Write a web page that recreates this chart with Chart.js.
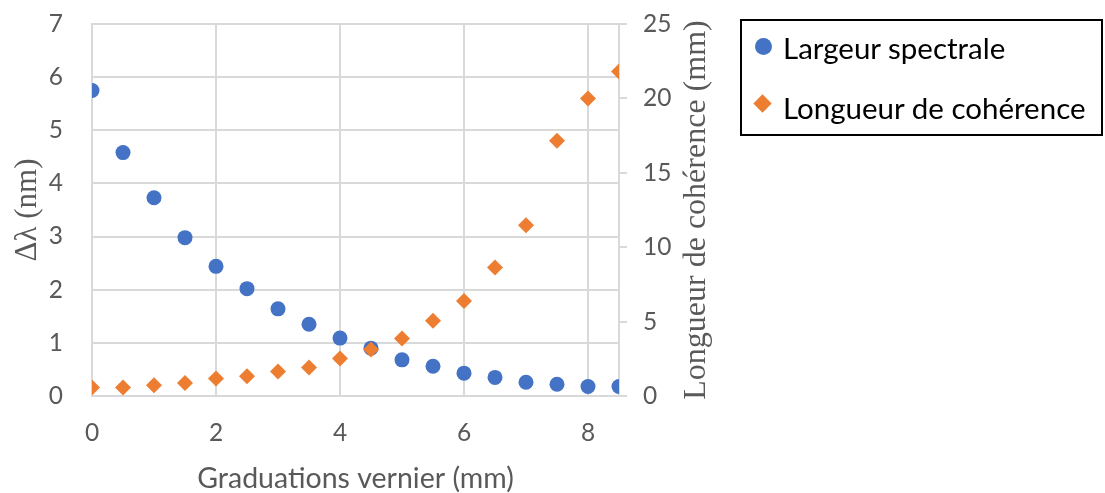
<!DOCTYPE html>
<html>
<head>
<meta charset="utf-8">
<script src="https://cdn.jsdelivr.net/npm/chart.js@4.4.1/dist/chart.umd.min.js"></script>
<style>
  html, body { margin: 0; padding: 0; background: #fff; }
  #wrap { position: relative; width: 1105px; height: 493px; overflow: hidden; }
  #chart { position: absolute; left: 0; top: 0; }
  .legend-box { position: absolute; left: 740px; top: 19px; width: 359px; height: 113px; border: 2px solid #000; }
  .legend-text { position: absolute; left: 783px; font-family: Lato, sans-serif; font-size: 29.5px; line-height: 29px; color: #000; white-space: nowrap; }
  .mk-circle { position: absolute; left: 755px; top: 38px; width: 17px; height: 17px; border-radius: 50%; background: #4472C4; }
  .mk-diamond { position: absolute; left: 756px; top: 97px; width: 13px; height: 13px; background: #ED7D31; transform: rotate(45deg); }
</style>
</head>
<body>
<div id="wrap">
  <canvas id="chart" width="1105" height="493"></canvas>
  <div class="legend-box"></div>
  <div class="mk-circle"></div>
  <div class="legend-text" style="top: 33px;">Largeur spectrale</div>
  <div class="mk-diamond"></div>
  <div class="legend-text" style="top: 93px;">Longueur de cohérence</div>
</div>
<script>
// Graduations of the vernier (mm), one reading every half millimetre
const graduations = [0, 0.5, 1, 1.5, 2, 2.5, 3, 3.5, 4, 4.5, 5, 5.5, 6, 6.5, 7, 7.5, 8, 8.5];

// Spectral width (nm), left axis
const largeurSpectrale = [5.75, 4.58, 3.73, 2.98, 2.44, 2.02, 1.64, 1.35, 1.09, 0.90,
  0.68, 0.56, 0.43, 0.35, 0.26, 0.22, 0.18, 0.18];

// Coherence length (mm), right axis
const longueurCoherence = [0.57, 0.57, 0.72, 0.88, 1.17, 1.33, 1.64, 1.91, 2.52, 3.12,
  3.86, 5.05, 6.39, 8.64, 11.47, 17.16, 19.99, 21.81];

const X_RANGE = [0, 8.5];
const Y_RANGE = [0, 7];
const Y2_RANGE = [0, 25];

const X_TITLE = "Graduations vernier (mm)";
const Y_TITLE = "Δλ (nm)";
const Y2_TITLE = "Longueur de cohérence (mm)";

const GRID = "#d9d9d9";
const LABEL = "#595959";

Chart.defaults.font.family = "Lato, sans-serif";

function toPoints(ys) {
  return graduations.map((x, i) => ({ x, y: ys[i] }));
}

// Chart.js turns a right-hand title to read downwards; Excel has it read upwards like the left one.
const rightTitle = {
  id: "rightTitle",
  afterDraw(chart) {
    const { ctx, chartArea } = chart;
    const s = chart.scales.y2;
    ctx.save();
    ctx.translate(s.left + 78, (chartArea.top + chartArea.bottom) / 2);
    ctx.rotate(-Math.PI / 2);
    ctx.font = '32px "Liberation Serif", serif';
    ctx.fillStyle = LABEL;
    ctx.textAlign = "center";
    ctx.textBaseline = "middle";
    ctx.fillText(Y2_TITLE, 0, 0);
    ctx.restore();
  },
};

// Fixed axis sizes so the plot area lands where Excel put it; the tick padding
// would otherwise push the top of the plot down.
function fixVertical(width) {
  return (scale) => {
    scale.width = width;
    scale.paddingTop = 0;
    scale.paddingBottom = 0;
  };
}

new Chart(document.getElementById("chart").getContext("2d"), {
  type: "scatter",
  data: {
    datasets: [
      {
        label: "Largeur spectrale",
        data: toPoints(largeurSpectrale),
        yAxisID: "y",
        order: 1,
        pointStyle: "circle",
        pointRadius: 7.5,
        backgroundColor: "#4472C4",
        borderColor: "#4472C4",
        borderWidth: 0,
      },
      {
        label: "Longueur de cohérence",
        data: toPoints(longueurCoherence),
        yAxisID: "y2",
        order: 0, // drawn over the blue points where they cross
        pointStyle: "rectRot",
        pointRadius: 8,
        backgroundColor: "#ED7D31",
        borderColor: "#ED7D31",
        borderWidth: 0,
      },
    ],
  },
  options: {
    responsive: false,
    animation: false,
    events: [],
    layout: { padding: { top: 24, right: 385, left: 0, bottom: 0 } },
    plugins: { legend: { display: false }, tooltip: { enabled: false } },
    scales: {
      x: {
        type: "linear",
        min: X_RANGE[0],
        max: X_RANGE[1],
        ticks: { stepSize: 2, includeBounds: false, padding: 22, color: LABEL, font: { size: 24.5 } },
        grid: { color: GRID, lineWidth: 2, drawTicks: false },
        border: { display: true, color: GRID, width: 2 },
        title: {
          display: true,
          text: X_TITLE,
          color: LABEL,
          font: { size: 28.5, lineHeight: 1 },
          padding: { top: 0, bottom: 0 },
        },
        afterFit(scale) {
          scale.height = 97;
        },
      },
      y: {
        position: "left",
        min: Y_RANGE[0],
        max: Y_RANGE[1],
        ticks: { stepSize: 1, padding: 29, color: LABEL, font: { size: 24.5 } },
        grid: { color: GRID, lineWidth: 2, drawTicks: false },
        border: { display: true, color: GRID, width: 2 },
        title: {
          display: true,
          text: Y_TITLE,
          color: LABEL,
          font: { family: '"Liberation Serif", serif', size: 31 },
          padding: { top: 9, bottom: 0 },
        },
        afterFit: fixVertical(92),
      },
      y2: {
        position: "right",
        min: Y2_RANGE[0],
        max: Y2_RANGE[1],
        ticks: { stepSize: 5, padding: 16, color: LABEL, font: { size: 24.5 } },
        grid: { drawOnChartArea: false, drawTicks: true, tickLength: 8, color: GRID, lineWidth: 2 },
        border: { display: true, color: GRID, width: 2 },
        afterFit: fixVertical(101),
      },
    },
  },
  plugins: [rightTitle],
});
</script>
</body>
</html>
